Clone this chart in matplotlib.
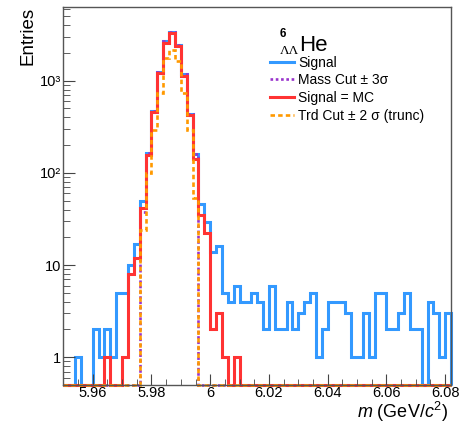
import numpy as np
import matplotlib
matplotlib.use("Agg")
import matplotlib.pyplot as plt
import matplotlib.ticker as mticker
from matplotlib.lines import Line2D

plt.rcParams['font.family'] = ['Liberation Sans', 'DejaVu Sans']
plt.rcParams['mathtext.fontset'] = 'custom'
plt.rcParams['mathtext.rm'] = 'Liberation Sans'
plt.rcParams['mathtext.it'] = 'Liberation Sans:italic'

# mass histogram binning (GeV/c^2)
m_lo = 5.95
bin_w = 0.002
n_bins = 66

# counts per bin
signal = [0, 0, 1, 0, 0, 2, 1, 2, 1, 5,
          5, 10, 17, 50, 164, 470, 1250, 2680, 3380, 2440,
          1170, 440, 160, 46, 29, 14, 16, 5, 4, 6,
          4, 4, 5, 4, 2, 6, 2, 2, 4, 2,
          3, 4, 5, 1, 2, 4, 4, 4, 3, 1,
          1, 3, 1, 5, 5, 2, 2, 3, 5, 2,
          2, 0, 4, 3, 1, 3]
mass_cut = [0]*13 + [38, 164, 470, 1250, 2680, 3380, 2440, 1170, 440, 160] + [0]*43
signal_mc = [0, 0, 0, 0, 0, 0, 0, 1, 0, 0,
             1, 8, 12, 42, 157, 456, 1210, 2560, 3280, 2350,
             1130, 420, 142, 35, 22, 2, 3, 1, 0, 1] + [0]*36
trd_cut = [0]*13 + [24, 100, 293, 733, 1760, 2150, 1650, 733, 293, 54] + [0]*43

labels = ["Signal", "Mass Cut \u00b1 3\u03c3", "Signal = MC", "Trd Cut \u00b1 2 \u03c3 (trunc)"]
colors = ["#3399ff", "#9933cc", "#ff3333", "#ff9900"]

y_min, y_max = 0.5, 6300
edges = np.round(m_lo + bin_w*np.arange(n_bins+1), 4)

W, H = 462, 422
fig = plt.figure(figsize=(W/100, H/100), dpi=100)
x0, x1, y0, y1 = 63.35, 451, 7, 385
ax = fig.add_axes([x0/W, 1-y1/H, (x1-x0)/W, (y1-y0)/H])

styles = [("-", 2.2), ((0, (1.0, 1.0)), 1.9), ("-", 2.2), ((0, (1.7, 1.2)), 1.9)]
for vals, col, (ls, lw) in zip([signal, mass_cut, signal_mc, trd_cut], colors, styles):
    v = np.array(vals, dtype=float)
    v[v <= 0] = y_min
    ax.stairs(v, edges, baseline=y_min, color=col, lw=lw, ls=ls, clip_on=False)

ax.set_yscale('log')
ax.set_xlim(edges[0], edges[-1])
ax.set_ylim(y_min, y_max)

ax.xaxis.set_major_locator(mticker.MultipleLocator(0.02))
ax.xaxis.set_minor_locator(mticker.MultipleLocator(0.005))
ax.xaxis.set_major_formatter(mticker.FuncFormatter(lambda x, p: "%g" % round(x, 3)))
ax.yaxis.set_major_locator(mticker.FixedLocator([1, 10, 100, 1000]))
ax.yaxis.set_minor_locator(mticker.LogLocator(base=10, subs=np.arange(2, 10)))
ax.yaxis.set_minor_formatter(mticker.NullFormatter())
ylabs = {1: "1", 10: "10", 100: "10\u00b2", 1000: "10\u00b3"}
ax.yaxis.set_major_formatter(mticker.FuncFormatter(lambda y, p: ylabs.get(int(round(y)), "")))

ax.tick_params(which='both', direction='in', top=False, right=False, color='#444444',
               labelsize=10.5)
ax.tick_params(axis='y', which='major', length=8.5, pad=1.5)
ax.tick_params(axis='y', which='minor', length=5)
ax.tick_params(axis='x', which='major', length=8, pad=1.0)
ax.tick_params(axis='x', which='minor', length=4.5)
for s in ax.spines.values():
    s.set_color('#555555')
    s.set_linewidth(1.0)

ax.set_ylabel("Entries", fontsize=13.5, loc='top')
ax.yaxis.set_label_coords((37 - x0)/(x1 - x0), 1.0)
ax.set_xlabel(r"$m$ (GeV/$c^{2}$)", fontsize=13, loc='right')
ax.xaxis.label.set_va('baseline')
ax.xaxis.set_label_coords((448 - x0)/(x1 - x0), -(417.5 - y1)/(y1 - y0))

handles = [Line2D([], [], color=c, lw=lw, ls=ls) for c, (ls, lw) in zip(colors, styles)]
ax.legend(handles, labels, loc='upper left', bbox_to_anchor=((270 - x0)/(x1 - x0), (y1 - 55.5)/(y1 - y0)),
          frameon=False, fontsize=10, handlelength=1.7, handletextpad=0.35,
          labelspacing=0.27, borderpad=0, borderaxespad=0)

# legend header  ^{6}_{ΛΛ}He
fig.text(283/W, 1-34/H, "6", fontsize=8.5, weight='bold', ha='center', va='center')
fig.text(289.5/W, 1-51.5/H, "\u039b\u039b", fontsize=9.5, family='Liberation Serif', ha='center', va='center')
fig.text(299/W, 1-50.7/H, "He", fontsize=16, ha='left', va='baseline')

fig.savefig("out.png", dpi=100)
